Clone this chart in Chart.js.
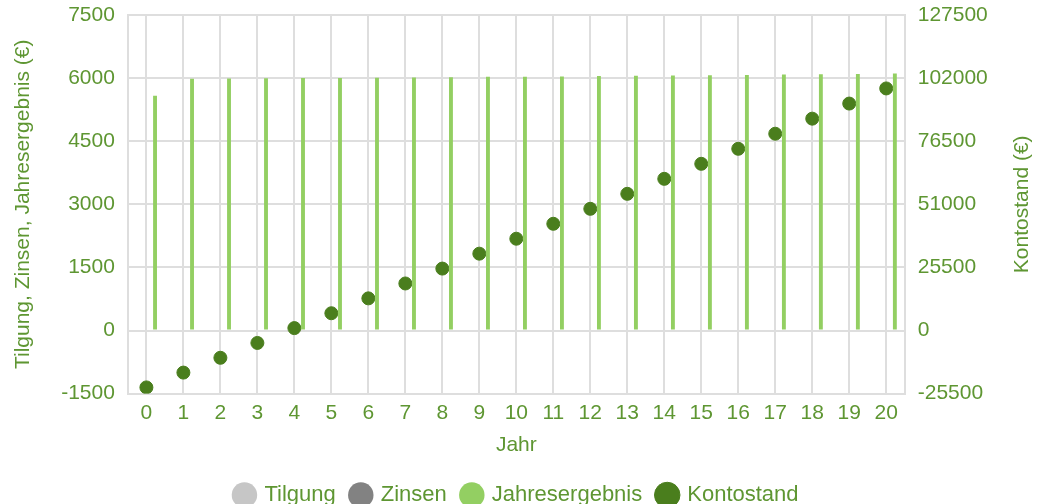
<!DOCTYPE html>
<html lang="de">
<head>
<meta charset="UTF-8">
<title>Kontostand</title>
<script src="https://cdn.jsdelivr.net/npm/chart.js@4"></script>
<style>
  html, body { margin: 0; padding: 0; background: #fff; overflow: hidden; }
  #wrap { width: 1038px; height: 516px; position: relative; }
</style>
</head>
<body>
<div id="wrap"><canvas id="chart"></canvas></div>
<script>
const years = ["0","1","2","3","4","5","6","7","8","9","10","11","12","13","14","15","16","17","18","19","20"]
const tilgung = [0,0,0,0,0,0,0,0,0,0,0,0,0,0,0,0,0,0,0,0,0]
const zinsen = [0,0,0,0,0,0,0,0,0,0,0,0,0,0,0,0,0,0,0,0,0]
const jahresergebnis = [5580,5985,5990,5995,6000,6005,6010,6015,6020,6030,6035,6040,6050,6055,6060,6070,6075,6085,6090,6100,6110]
const kontostand = [-23000,-17015,-11025,-5030,970,6975,12985,19000,25020,31050,37085,43125,49175,55230,61290,67360,73435,79520,85610,91710,97820]

const green = "#5e9632"
const gridColor = "#dedede"
const fontFamily = "'Liberation Sans', Arial, sans-serif"
const font = { family: fontFamily, size: 21 }

Chart.defaults.font = font
Chart.defaults.color = green

// right axis title reads bottom-to-top like the left one
const rightTitle = {
  id: "rightTitle",
  afterDraw(chart) {
    const s = chart.scales.y1
    const ctx = chart.ctx
    ctx.save()
    ctx.translate(chart.width - 16, (s.top + s.bottom) / 2)
    ctx.rotate(-Math.PI / 2)
    ctx.font = "21px " + fontFamily
    ctx.fillStyle = green
    ctx.textAlign = "center"
    ctx.textBaseline = "middle"
    ctx.fillText("Kontostand (€)", 0, 0)
    ctx.restore()
  },
}

// tick padding is only wanted sideways, not above the top gridline
function trimPadding(scale) {
  scale.paddingTop = 15
  scale.paddingBottom = 13
}

new Chart(document.getElementById("chart"), {
  type: "bar",
  data: {
    labels: years,
    datasets: [
      { label: "Tilgung", data: tilgung, backgroundColor: "#c6c6c6", yAxisID: "y" },
      { label: "Zinsen", data: zinsen, backgroundColor: "#828282", yAxisID: "y" },
      { label: "Jahresergebnis", data: jahresergebnis, backgroundColor: "#93cf62", yAxisID: "y" },
      {
        label: "Kontostand", data: kontostand, type: "line", showLine: false,
        backgroundColor: "#4a7e1d", borderColor: "#4a7e1d",
        pointRadius: 6.5, pointHoverRadius: 6.5, yAxisID: "y1",
      },
    ],
  },
  plugins: [rightTitle],
  options: {
    responsive: true,
    maintainAspectRatio: false,
    animation: false,
    categoryPercentage: 0.7,
    barPercentage: 0.45,
    layout: { padding: { left: 0, right: 4, top: 0 } },
    plugins: {
      tooltip: { enabled: false },
      legend: {
        position: "bottom",
        labels: {
          usePointStyle: true, pointStyle: "circle", boxWidth: 18, boxHeight: 18, padding: 16,
          color: green, font: { family: fontFamily, size: 22 },
        },
      },
    },
    scales: {
      x: {
        grid: { color: gridColor, lineWidth: 2, offset: false, drawTicks: false },
        border: { color: gridColor, width: 2 },
        ticks: { color: green, padding: 7 },
        title: { display: true, text: "Jahr", color: green, font: font, padding: { top: 0, bottom: 10 } },
      },
      y: {
        position: "left",
        min: -1500, max: 7500,
        afterFit: trimPadding,
        grid: { color: gridColor, lineWidth: 2, drawTicks: false },
        border: { color: gridColor, width: 2 },
        ticks: { stepSize: 1500, color: green, padding: 13, callback: (v) => String(v) },
        title: {
          display: true, text: "Tilgung, Zinsen, Jahresergebnis (€)", color: green, font: font,
          padding: { top: 11, bottom: 12 },
        },
      },
      y1: {
        position: "right",
        min: -25500, max: 127500,
        afterFit: trimPadding,
        grid: { display: false, drawTicks: false },
        border: { color: gridColor, width: 2 },
        ticks: { stepSize: 25500, color: green, padding: 13, callback: (v) => String(v) },
        title: { display: true, text: "Kontostand (€)", color: "rgba(0,0,0,0)", font: font },
      },
    },
  },
})
</script>
</body>
</html>
